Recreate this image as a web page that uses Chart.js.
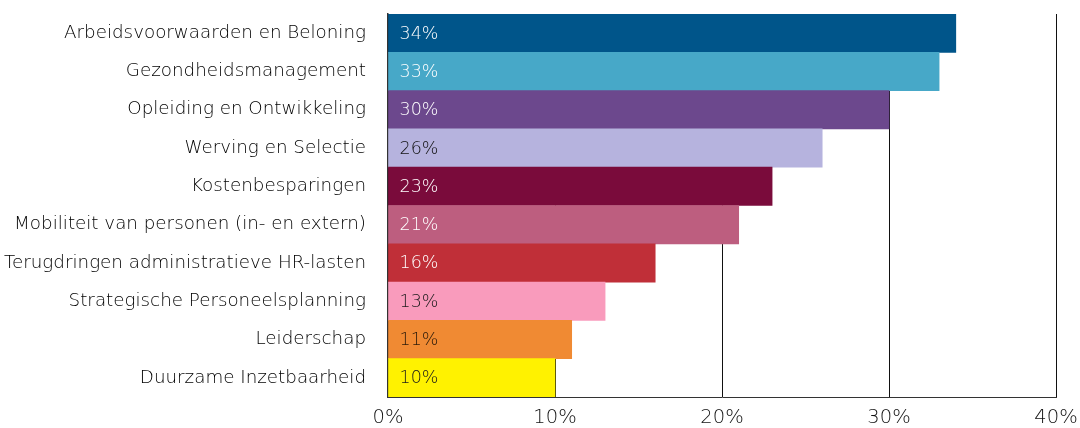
<!DOCTYPE html>
<html>
<head>
<meta charset="utf-8">
<script src="https://cdn.jsdelivr.net/npm/chart.js@4"></script>
<style>
  html, body { margin: 0; padding: 0; background: #fff; }
  #wrap { width: 1080px; height: 428px; }
</style>
</head>
<body>
<div id="wrap"><canvas id="chart"></canvas></div>
<script>
const categories = [
  'Arbeidsvoorwaarden en Beloning',
  'Gezondheidsmanagement',
  'Opleiding en Ontwikkeling',
  'Werving en Selectie',
  'Kostenbesparingen',
  'Mobiliteit van personen (in- en extern)',
  'Terugdringen administratieve HR-lasten',
  'Strategische Personeelsplanning',
  'Leiderschap',
  'Duurzame Inzetbaarheid'
];
const percentages = [34, 33, 30, 26, 23, 21, 16, 13, 11, 10];
const xTicks = [0, 10, 20, 30, 40];

const barColors = [
  '#00558A', '#47A8C8', '#6C488D', '#B6B3DE', '#7A0B3B',
  '#BD5E7F', '#C02F38', '#F99BBC', '#F08A33', '#FFF200'
];
const labelColors = [
  '#ffffff', '#ffffff', '#ffffff', '#111111', '#ffffff',
  '#ffffff', '#ffffff', '#1a1a1a', '#2a1a0a', '#1a1a1a'
];

const fontFamily = '"DejaVu Sans", sans-serif';
const fontWeight = '200';

// value labels drawn inside each bar, near its base
const valueLabels = {
  id: 'valueLabels',
  afterDatasetsDraw(chart) {
    const ctx = chart.ctx;
    const meta = chart.getDatasetMeta(0);
    ctx.save();
    ctx.font = fontWeight + ' 17.5px ' + fontFamily;
    ctx.textAlign = 'left';
    ctx.textBaseline = 'middle';
    meta.data.forEach((bar, i) => {
      ctx.fillStyle = labelColors[i];
      ctx.fillText(percentages[i] + '%', bar.base + 11, bar.y + 1);
    });
    ctx.restore();
  }
};

new Chart(document.getElementById('chart'), {
  type: 'bar',
  data: {
    labels: categories,
    datasets: [{
      data: percentages,
      backgroundColor: barColors,
      borderWidth: 0,
      categoryPercentage: 1,
      barPercentage: 1
    }]
  },
  options: {
    indexAxis: 'y',
    responsive: true,
    maintainAspectRatio: false,
    animation: false,
    layout: { padding: { top: 14, right: 0, bottom: 0, left: 0 } },
    plugins: {
      legend: { display: false },
      tooltip: { enabled: false }
    },
    scales: {
      x: {
        min: 0,
        max: 40,
        afterBuildTicks(scale) {
          scale.ticks = xTicks.map(v => ({ value: v }));
        },
        afterFit(scale) {
          scale.height = 31;
          scale.paddingLeft = 0;
          scale.paddingRight = 24;
        },
        grid: { color: '#111', lineWidth: 1, drawTicks: false },
        border: { display: true, color: '#333', width: 1 },
        ticks: {
          padding: 9,
          color: '#111',
          font: { family: fontFamily, size: 19.5, weight: fontWeight },
          callback: v => v + '%'
        }
      },
      y: {
        afterFit(scale) {
          scale.width = 388;
          scale.paddingTop = 0;
          scale.paddingBottom = 0;
        },
        grid: { display: false, drawTicks: false },
        border: { display: true, color: '#333', width: 1.5 },
        ticks: {
          padding: 22,
          color: '#000',
          font: { family: fontFamily, size: 18.3, weight: fontWeight }
        }
      }
    }
  },
  plugins: [valueLabels]
});
</script>
</body>
</html>
